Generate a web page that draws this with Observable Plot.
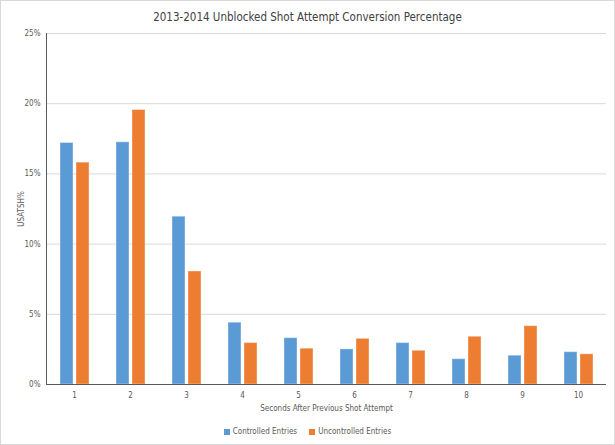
<!DOCTYPE html>
<html><head><meta charset="utf-8">
<script src="https://cdn.jsdelivr.net/npm/d3@7"></script>
<script src="https://cdn.jsdelivr.net/npm/@observablehq/plot@0.6"></script>
<style>
body{margin:0;background:#fff;}
#wrap{position:relative;width:615px;height:445px;box-sizing:border-box;border:1px solid #d9d9d9;font-family:"Liberation Sans Narrow","DejaVu Sans Condensed",sans-serif;color:#595959;overflow:hidden;}
#title{height:27px;line-height:32px;text-align:center;font-size:11.5px;color:#404040;}
#chart svg{display:block;}
#legend{display:flex;justify-content:center;gap:12px;font-size:8px;height:23px;align-items:center;}
.item{display:flex;align-items:center;}
.sw{display:inline-block;width:6px;height:6px;margin-right:3px;}
</style></head>
<body><div id="wrap"><div id="title">2013-2014 Unblocked Shot Attempt Conversion Percentage</div><div id="chart"></div><div id="legend"></div></div>
<script>
const seconds = [1, 2, 3, 4, 5, 6, 7, 8, 9, 10];
const controlled = [17.2, 17.25, 11.95, 4.4, 3.3, 2.5, 2.95, 1.8, 2.05, 2.3];
const uncontrolled = [15.8, 19.55, 8.05, 2.95, 2.55, 3.25, 2.4, 3.4, 4.15, 2.15];
const seriesNames = ["Controlled Entries", "Uncontrolled Entries"];
const colors = ["#5B9BD5", "#ED7D31"];
const yTicks = [0, 0.05, 0.10, 0.15, 0.20, 0.25];
const xTitle = "Seconds After Previous Shot Attempt";
const yTitle = "USATSH%";

const data = seconds.flatMap((s, i) => [
  {s, series: seriesNames[0], v: controlled[i] / 100},
  {s, series: seriesNames[1], v: uncontrolled[i] / 100}
]);
const font = '"Liberation Sans Narrow","DejaVu Sans Condensed",sans-serif';
const pct = d3.format(".0%");

const chart = Plot.plot({
  width: 613, height: 392,
  marginTop: 5, marginLeft: 40, marginRight: 4, marginBottom: 36,
  style: {fontFamily: font, fontSize: "8px", color: "#595959", background: "transparent"},
  fx: {domain: seconds, padding: 0},
  x: {domain: seriesNames, paddingInner: 0.2, paddingOuter: 0.85, axis: null},
  y: {domain: [0, 0.25], ticks: yTicks, tickFormat: pct},
  color: {domain: seriesNames, range: colors},
  marks: [
    Plot.gridY(yTicks.slice(1), {stroke: "#d9d9d9", strokeOpacity: 1}),
    Plot.barY(data, {fx: "s", x: "series", y: "v", fill: "series", stroke: "#fff", strokeOpacity: 0.35, strokeWidth: 1}),
    Plot.ruleY([0], {stroke: "#595959", strokeWidth: 1.2}),
    Plot.frame({anchor: "left", facetAnchor: "left", stroke: "#595959"}),
    Plot.axisY(yTicks, {tickSize: 0, tickPadding: 6, tickFormat: pct, label: yTitle, labelAnchor: "center", labelArrow: "none", labelOffset: 28}),
    Plot.axisFx({anchor: "bottom", tickSize: 0, tickPadding: 8, label: xTitle, labelAnchor: "center", labelArrow: "none", labelOffset: 26, fontSize: 8})
  ]
});
document.getElementById("chart").appendChild(chart);

const legend = document.getElementById("legend");
seriesNames.forEach((n, i) => {
  const it = document.createElement("div");
  it.className = "item";
  const sw = document.createElement("span");
  sw.className = "sw";
  sw.style.background = colors[i];
  it.appendChild(sw);
  it.appendChild(document.createTextNode(n));
  legend.appendChild(it);
});
</script>
</body></html>
